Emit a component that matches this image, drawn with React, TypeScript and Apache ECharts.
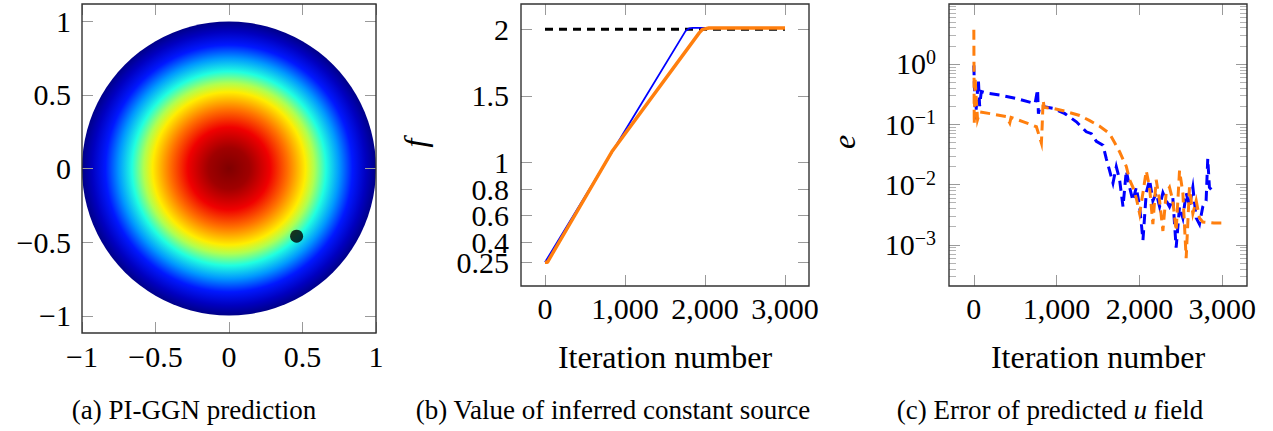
import React, { useEffect, useRef } from 'react';
import * as echarts from 'echarts';

const FONT = 'Liberation Serif';

// ---------- Panel (a): PI-GGN prediction ----------
const aTicks = [-1, -0.5, 0, 0.5, 1];
// disk: [centerX, centerY, radius]
const diskData = [[0, 0, 1]];
// sensor point
const markerPoint = [[0.46, -0.46]];
// radial colour levels read from the field (radius fraction -> colour)
const fieldColorStops: [number, string][] = [
  [0.0, '#7f0000'],
  [0.14, '#a00000'],
  [0.28, '#f00000'],
  [0.4, '#ff7000'],
  [0.52, '#ffee00'],
  [0.58, '#b0ff50'],
  [0.66, '#20ffe0'],
  [0.75, '#0098ff'],
  [0.84, '#0018ff'],
  [0.93, '#0000c0'],
  [1.0, '#000088'],
];

// ---------- Panel (b): inferred constant source ----------
const bXTicks = [0, 1000, 2000, 3000];
const bYTicks = [0.25, 0.4, 0.6, 0.8, 1, 1.5, 2];
// labels split in two interleaved sets so that close labels are both kept
const bYLabelsA = [0.25, 0.6, 1, 2];
const bYLabelsB = [0.4, 0.8, 1.5];
const bTarget = [[0, 2], [3000, 2]];
const bBlue = [[0, 0.25], [840, 1.08], [1760, 1.99], [1800, 2.006], [1850, 2.01], [3000, 2.01]];
const bOrange = [[0, 0.25], [30, 0.25], [835, 1.08], [1930, 1.975], [1970, 2.0], [2050, 2.01], [3000, 2.01]];

// ---------- Panel (c): error of predicted u field ----------
const cXTicks = [0, 1000, 2000, 3000];
const cYMajor = [0.001, 0.01, 0.1, 1];
const cMinorMantissa = [2, 3, 4, 5, 6, 7, 8, 9];
const cMinorDecades = [1e-4, 1e-3, 1e-2, 1e-1, 1];
const cBlue = [
  [0, 0.95], [10, 0.3], [20, 0.12], [40, 0.3], [55, 0.55], [70, 0.2], [90, 0.35], [150, 0.33],
  [314, 0.306], [500, 0.27], [740, 0.22], [770, 0.38], [780, 0.15], [800, 0.2], [957, 0.184],
  [1100, 0.15], [1239, 0.11], [1359, 0.075], [1420, 0.07], [1480, 0.052], [1560, 0.045],
  [1600, 0.027], [1640, 0.017], [1681, 0.0106], [1721, 0.0197], [1761, 0.012], [1802, 0.0043],
  [1842, 0.017], [1882, 0.009], [1922, 0.0054], [1962, 0.009], [2003, 0.0043], [2043, 0.0012],
  [2083, 0.0073], [2123, 0.012], [2163, 0.0054], [2203, 0.0073], [2244, 0.0043], [2284, 0.0073],
  [2324, 0.0054], [2364, 0.0043], [2404, 0.006], [2444, 0.0009], [2485, 0.0043], [2525, 0.0028],
  [2565, 0.0073], [2605, 0.0043], [2646, 0.009], [2686, 0.0028], [2726, 0.0022], [2766, 0.0043],
  [2806, 0.0054], [2826, 0.027], [2846, 0.009], [2887, 0.0077], [2910, 0.0075],
];
const cOrange = [
  [0, 3.7], [5, 0.1], [15, 0.6], [30, 0.25], [45, 0.12], [72, 0.16], [200, 0.15], [394, 0.134],
  [434, 0.105], [450, 0.13], [600, 0.11], [756, 0.091], [816, 0.049], [825, 0.09], [837, 0.25],
  [850, 0.19], [957, 0.184], [1100, 0.165], [1279, 0.14], [1400, 0.115], [1520, 0.093],
  [1640, 0.07], [1700, 0.05], [1761, 0.035], [1842, 0.02], [1882, 0.012], [1922, 0.009],
  [1962, 0.006], [2003, 0.0033], [2043, 0.0073], [2083, 0.017], [2123, 0.009], [2163, 0.0022],
  [2203, 0.012], [2244, 0.0054], [2284, 0.0017], [2324, 0.0073], [2364, 0.009], [2404, 0.0054],
  [2444, 0.0017], [2485, 0.017], [2525, 0.0073], [2565, 0.0006], [2605, 0.009], [2646, 0.0033],
  [2686, 0.0054], [2726, 0.0028], [2766, 0.0024], [2900, 0.0023], [3000, 0.0023],
];

const TICK = '#9a9a9a';
const MINOR = '#b4b4b4';

const minusFmt = (v: number) => (v < 0 ? '\u2212' + Math.abs(v) : String(v));
const thousandsFmt = (v: number) => v.toLocaleString('en-US');
const logFmt = (v: number) => {
  const e = Math.round(Math.log10(v));
  return '{b|10}{s|' + (e < 0 ? '\u2212' + -e : String(e)) + '}';
};

function axis(
  gridIndex: number,
  position: string,
  min: number,
  max: number,
  ticks: number[],
  labels: boolean,
  formatter: any,
  margin: number,
  extra: any = {}
) {
  return {
    type: 'value',
    gridIndex,
    position,
    min,
    max,
    z: 10,
    axisLine: { show: false, onZero: false },
    splitLine: { show: false },
    axisTick: {
      show: extra.noTicks ? false : true,
      inside: true,
      length: extra.tickLength || 11,
      customValues: ticks,
      lineStyle: { color: extra.tickColor || TICK, width: 1 },
    },
    axisLabel: {
      show: labels,
      customValues: extra.labelValues || ticks,
      formatter,
      fontFamily: FONT,
      fontSize: 30,
      color: '#000',
      margin,
      showMinLabel: true,
      showMaxLabel: true,
      rich: extra.rich,
    },
  };
}

const logRich = {
  b: { fontFamily: FONT, fontSize: 30, color: '#000', lineHeight: 34 },
  s: { fontFamily: FONT, fontSize: 20, color: '#000', verticalAlign: 'top', lineHeight: 20 },
};

export default function App() {
  const ref = useRef<HTMLDivElement>(null);

  useEffect(() => {
    if (!ref.current) return;
    const chart = echarts.init(ref.current, null, { renderer: 'svg' });

    const cMinor: number[] = [];
    cMinorDecades.forEach((d) => cMinorMantissa.forEach((m) => cMinor.push(m * d)));

    const aYMin = -1.117, aYMax = 1.117;
    const bYMin = 0.072, bYMax = 2.19;
    const cYMin = Math.pow(10, -3.682), cYMax = Math.pow(10, 0.995);

    const frame = { show: true, z: 12, borderColor: '#333', borderWidth: 1.4, backgroundColor: 'transparent' };
    const nameStyle = { fontFamily: FONT, fontSize: 32, color: '#000' };
    const plain = (v: number) => String(v);

    const option: any = {
      animation: false,
      textStyle: { fontFamily: FONT },
      grid: [
        { left: 82, top: 4, width: 294, height: 329, ...frame },
        { left: 521, top: 4, width: 288, height: 282, ...frame },
        { left: 949, top: 4, width: 298, height: 282, ...frame },
      ],
      xAxis: [
        axis(0, 'bottom', -1, 1, aTicks, true, minusFmt, 8),
        axis(0, 'top', -1, 1, aTicks, false, null, 8),
        {
          ...axis(1, 'bottom', -300, 3300, bXTicks, true, thousandsFmt, 7),
          name: 'Iteration number',
          nameLocation: 'middle',
          nameGap: 55,
          nameTextStyle: nameStyle,
        },
        axis(1, 'top', -300, 3300, bXTicks, false, null, 7),
        {
          ...axis(2, 'bottom', -300, 3300, cXTicks, true, thousandsFmt, 7),
          name: 'Iteration number',
          nameLocation: 'middle',
          nameGap: 55,
          nameTextStyle: nameStyle,
        },
        axis(2, 'top', -300, 3300, cXTicks, false, null, 7),
      ],
      yAxis: [
        axis(0, 'left', aYMin, aYMax, aTicks, true, minusFmt, 11),
        axis(0, 'right', aYMin, aYMax, aTicks, false, null, 11),
        axis(1, 'left', bYMin, bYMax, bYTicks, true, plain, 12, { labelValues: bYLabelsA }),
        axis(1, 'right', bYMin, bYMax, bYTicks, false, null, 12),
        { ...axis(2, 'left', cYMin, cYMax, cYMajor, true, logFmt, 13, { rich: logRich }), type: 'log', logBase: 10 },
        { ...axis(2, 'left', cYMin, cYMax, cMinor, false, null, 13, { tickLength: 7, tickColor: MINOR }), type: 'log', logBase: 10 },
        { ...axis(2, 'right', cYMin, cYMax, cYMajor, false, null, 13), type: 'log', logBase: 10 },
        { ...axis(2, 'right', cYMin, cYMax, cMinor, false, null, 13, { tickLength: 7, tickColor: MINOR }), type: 'log', logBase: 10 },
        axis(1, 'left', bYMin, bYMax, bYTicks, true, plain, 12, { labelValues: bYLabelsB, noTicks: true }),
      ],
      series: [
        {
          type: 'custom',
          name: 'u field',
          xAxisIndex: 0,
          yAxisIndex: 0,
          data: diskData,
          renderItem: (params: any, api: any) => {
            const c = api.coord([api.value(0), api.value(1)]);
            const r = api.size([api.value(2), 0])[0];
            return {
              type: 'circle',
              shape: { cx: c[0], cy: c[1], r },
              style: {
                fill: new echarts.graphic.RadialGradient(
                  0.5,
                  0.5,
                  0.5,
                  fieldColorStops.map(([offset, color]) => ({ offset, color }))
                ),
              },
            };
          },
        },
        {
          type: 'scatter',
          name: 'sensor',
          xAxisIndex: 0,
          yAxisIndex: 0,
          data: markerPoint,
          symbolSize: 13,
          itemStyle: { color: '#000' },
        },
        {
          type: 'line',
          name: 'true f',
          xAxisIndex: 2,
          yAxisIndex: 2,
          data: bTarget,
          symbol: 'none',
          lineStyle: { color: '#000', width: 3, type: [8, 6] },
        },
        {
          type: 'line',
          name: 'blue f',
          xAxisIndex: 2,
          yAxisIndex: 2,
          data: bBlue,
          symbol: 'none',
          lineStyle: { color: '#0000ff', width: 1.8 },
        },
        {
          type: 'line',
          name: 'orange f',
          xAxisIndex: 2,
          yAxisIndex: 2,
          data: bOrange,
          symbol: 'none',
          lineStyle: { color: '#ff7f0e', width: 3.4 },
        },
        {
          type: 'line',
          name: 'blue e',
          xAxisIndex: 4,
          yAxisIndex: 4,
          data: cBlue,
          symbol: 'none',
          lineStyle: { color: '#0000ff', width: 3, type: [10, 6], join: 'miter', miterLimit: 8 },
        },
        {
          type: 'line',
          name: 'orange e',
          xAxisIndex: 4,
          yAxisIndex: 4,
          data: cOrange,
          symbol: 'none',
          lineStyle: { color: '#ff7f0e', width: 3, type: [10, 6], join: 'miter', miterLimit: 8 },
        },
      ],
      graphic: [
        {
          type: 'text',
          x: 415,
          y: 143,
          rotation: Math.PI / 2,
          style: { text: 'f', font: 'italic 32px Liberation Serif', fill: '#000', textAlign: 'center', textVerticalAlign: 'middle' },
        },
        {
          type: 'text',
          x: 844,
          y: 142,
          rotation: Math.PI / 2,
          style: { text: 'e', font: 'italic 32px Liberation Serif', fill: '#000', textAlign: 'center', textVerticalAlign: 'middle' },
        },
        {
          type: 'text',
          x: 194,
          y: 410,
          style: { text: '(a) PI-GGN prediction', font: '27px Liberation Serif', fill: '#000', textAlign: 'center', textVerticalAlign: 'middle' },
        },
        {
          type: 'text',
          x: 613,
          y: 410,
          style: { text: '(b) Value of inferred constant source', font: '27px Liberation Serif', fill: '#000', textAlign: 'center', textVerticalAlign: 'middle' },
        },
        {
          type: 'text',
          x: 1050,
          y: 410,
          style: {
            text: '{n|(c) Error of predicted }{i|u}{n| field}',
            rich: {
              n: { fontFamily: FONT, fontSize: 27, fill: '#000' },
              i: { fontFamily: FONT, fontSize: 27, fontStyle: 'italic', fill: '#000' },
            },
            textAlign: 'center',
            textVerticalAlign: 'middle',
          },
        },
      ],
    };

    chart.setOption(option);
    return () => chart.dispose();
  }, []);

  return (
    <div
      ref={ref}
      style={{ position: 'absolute', left: 0, top: 0, width: 1273, height: 431, background: '#fff' }}
    />
  );
}
